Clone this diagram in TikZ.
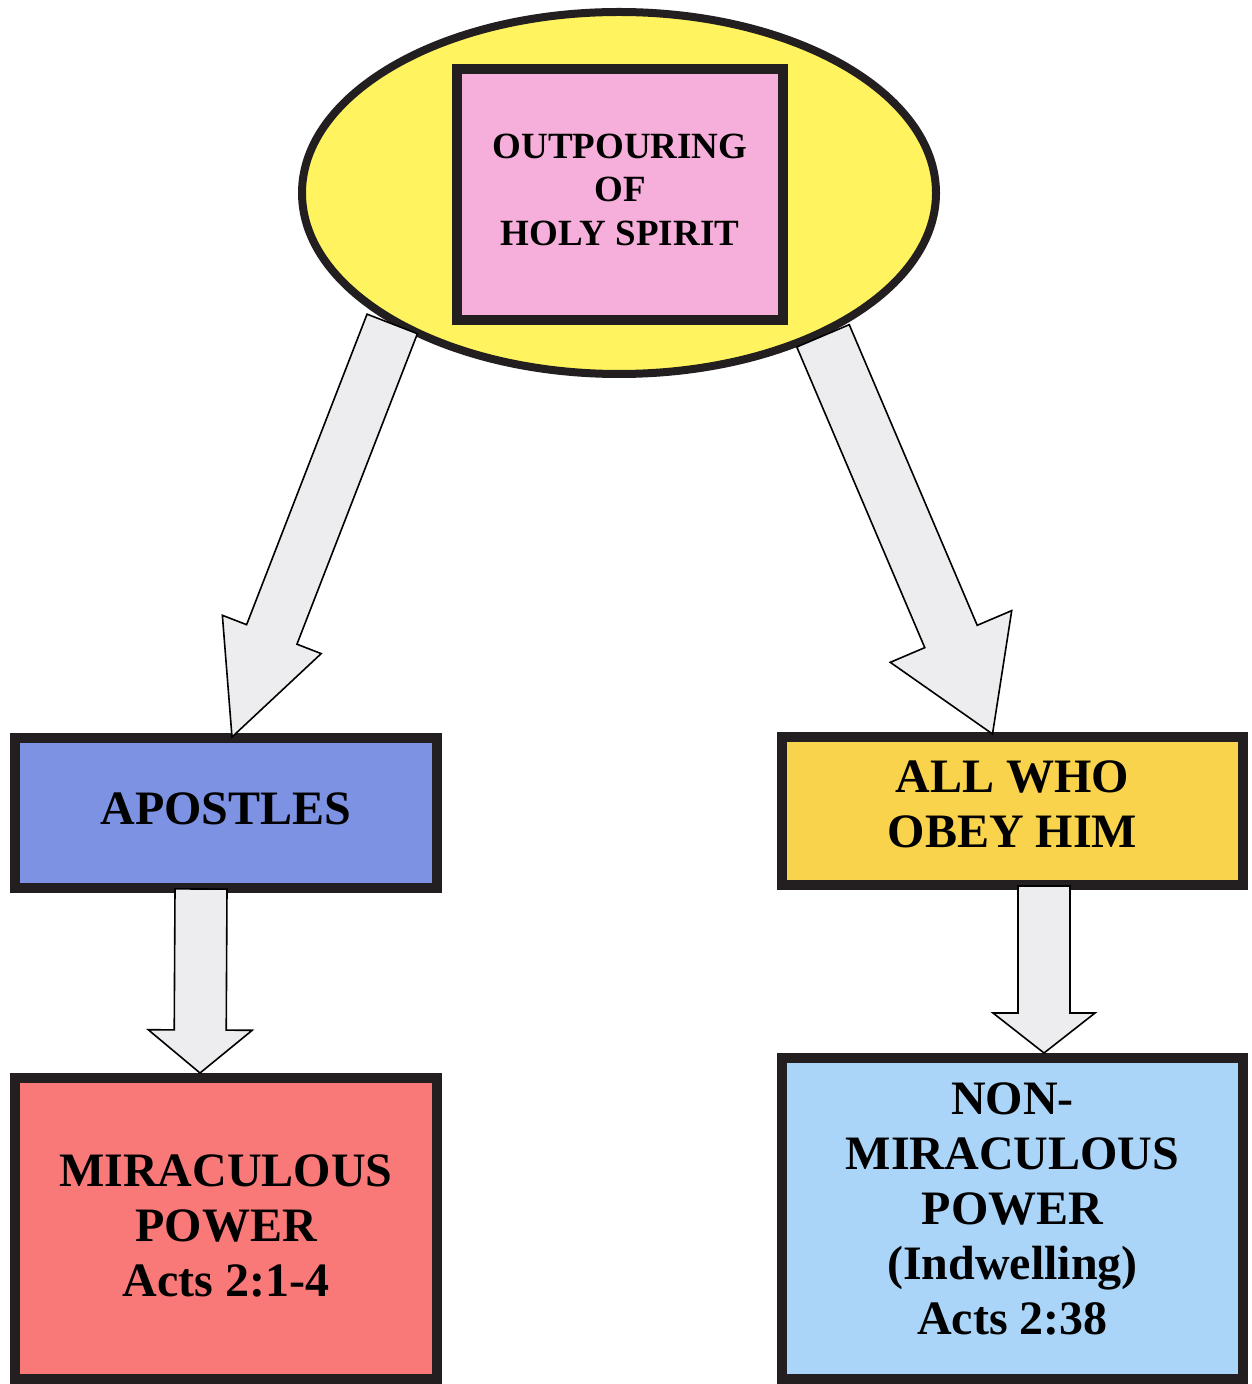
\documentclass[tikz,border=0pt]{standalone}
\usepackage{fontspec}
\setmainfont{Liberation Serif}
\usepackage{tikz}
\usetikzlibrary{positioning}
\usetikzlibrary{calc,shapes.geometric}

\definecolor{spirityellow}{HTML}{FFF45F}
\definecolor{spiritpink}{HTML}{F6AEDB}
\definecolor{apostleblue}{HTML}{7D92E2}
\definecolor{obeygold}{HTML}{F9D34C}
\definecolor{miraclered}{HTML}{F97878}
\definecolor{indwellblue}{HTML}{AAD5F8}
\definecolor{arrowgrey}{HTML}{EDEDF0}
\definecolor{boxline}{HTML}{231F20}

\begin{document}
\begin{tikzpicture}	[
	x=0.5pt,y=-0.5pt,
	box/.style={draw=boxline, line width=5pt, rectangle, align=center, inner sep=0pt,
		font=\bfseries\fontsize{24}{27.5}\selectfont},
	blockarrow/.style={draw=black, fill=arrowgrey, line width=0.8pt, line join=miter}
]
	\useasboundingbox (0,0) rectangle (1251,1384);

	% top
	\node[ellipse, draw=boxline, fill=spirityellow, line width=4pt,
		minimum width=317pt, minimum height=181pt, inner sep=0pt] (src) at (619,193) {};
	\node[box, fill=spiritpink, minimum width=163pt, minimum height=125.5pt, text depth=5pt,
		font=\bfseries\fontsize{18.5}{21.75}\selectfont] (out) at (620,194.5)
		{OUTPOURING\\OF\\HOLY SPIRIT};

	% middle row
	\node[box, fill=apostleblue, minimum width=211pt, minimum height=75pt, text depth=4pt] (apo) at (226,813) {APOSTLES};
	\node[box, fill=obeygold, minimum width=230.5pt, minimum height=74pt, text depth=7pt] (obey) at (1012.5,811) {ALL WHO\\OBEY HIM};

	% bottom row
	\node[box, fill=miraclered, minimum width=211pt, minimum height=150.5pt, text depth=3pt,
		below=90pt of apo] (mir) {MIRACULOUS\\POWER\\Acts 2:1-4};
	\node[box, fill=indwellblue, minimum width=230.5pt, minimum height=160.5pt, text depth=10pt,
		below=81.5pt of obey] (non) {NON-\\MIRACULOUS\\POWER\\(Indwelling)\\Acts 2:38};

	% arrow ends
	\coordinate (t1) at (src.210);
	\coordinate (p1) at ([xshift=3pt,yshift=-2pt]apo.north);
	\coordinate (t2) at (src.325);
	\coordinate (p2) at ([xshift=-10pt,yshift=-1pt]obey.north);
	\coordinate (t3) at ([xshift=-12.5pt,yshift=2pt]apo.south);
	\coordinate (p3) at ([xshift=-13pt]mir.north);
	\coordinate (t4) at ([xshift=15.75pt,yshift=2pt]obey.south);
	\coordinate (p4) at ([xshift=15.75pt]non.north);

	\foreach \tl/\tp/\hl/\hw/\sw in {t1/p1/55pt/26.5pt/13.5pt, t2/p2/53pt/33pt/14.25pt,
		t3/p3/21.5pt/26pt/13pt, t4/p4/20pt/25.5pt/13pt}{
		\path ($(\tp)!\hl!(\tl)$) coordinate (H);
		\draw[blockarrow]
			($(\tl)!\sw!90:(\tp)$) -- ($(H)!\sw!90:(\tp)$) -- ($(H)!\hw!90:(\tp)$)
			-- (\tp) -- ($(H)!\hw!-90:(\tp)$) -- ($(H)!\sw!-90:(\tp)$)
			-- ($(\tl)!\sw!-90:(\tp)$) -- cycle
		;
	}
\end{tikzpicture}
\end{document}
